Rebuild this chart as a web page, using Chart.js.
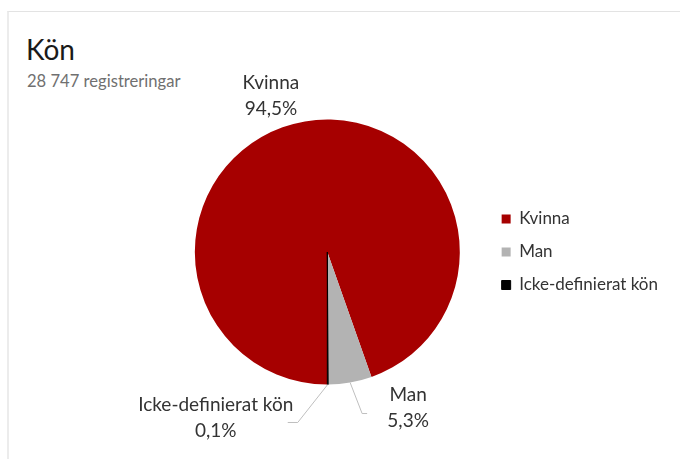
<!DOCTYPE html>
<html>
<head>
<meta charset="utf-8">
<script src="https://cdn.jsdelivr.net/npm/chart.js@4.4.0/dist/chart.umd.min.js"></script>
<style>
  html, body { margin: 0; padding: 0; background: #fff; }
  #wrap { position: relative; width: 680px; height: 459px; overflow: hidden; }
  #frame { position: absolute; left: 7px; top: 11px; width: 700px; height: 470px;
           border-top: 1px solid #e3e3e3; border-left: 2px solid #ececec; }
  #title { position: absolute; left: 26px; top: 32px; font-family: Lato, sans-serif;
           font-size: 28px; color: #1a1a1a; }
  #subtitle { position: absolute; left: 27px; top: 71px; font-family: Lato, sans-serif;
              font-size: 16.6px; color: #707070; }
  canvas { position: absolute; left: 0; top: 0; }
</style>
</head>
<body>
<div id="wrap">
  <div id="frame"></div>
  <div id="title">Kön</div>
  <div id="subtitle">28 747 registreringar</div>
  <canvas id="myChart" width="680" height="459"></canvas>
</div>
<script>
const categories = ['Kvinna', 'Man', 'Icke-definierat kön'];
const shares = [94.5, 5.3, 0.1];
const shareLabels = ['94,5%', '5,3%', '0,1%'];
const sliceColors = ['#a60000', '#b3b3b3', '#000000'];

// outer data labels with leader lines, placed relative to each slice's rim mid point
const outerLabels = {
    id: 'outerLabels',
    afterDraw(chart, args, opts) {
        const ctx = chart.ctx;
        const arcs = chart.getDatasetMeta(0).data;
        ctx.save();
        ctx.font = '19px Lato, sans-serif';
        ctx.fillStyle = '#333333';
        ctx.textAlign = 'center';
        ctx.textBaseline = 'middle';
        arcs.forEach((arc, i) => {
            const mid = (arc.startAngle + arc.endAngle) / 2;
            const px = arc.x + Math.cos(mid) * arc.outerRadius;
            const py = arc.y + Math.sin(mid) * arc.outerRadius;
            const p = opts.place[i];
            if (p.line) {
                ctx.strokeStyle = '#bfbfbf';
                ctx.lineWidth = 1;
                ctx.beginPath();
                ctx.moveTo(px, py);
                ctx.lineTo(px + p.line[0], py + p.line[1]);
                ctx.lineTo(px + p.line[2], py + p.line[1]);
                ctx.stroke();
            }
            const tx = px + p.text[0];
            const ty = py + p.text[1];
            ctx.fillText(chart.data.labels[i], tx, ty);
            ctx.fillText(shareLabels[i], tx, ty + 26);
        });
        ctx.restore();
    }
};

const ctx = document.getElementById('myChart').getContext('2d');
new Chart(ctx, {
    type: 'pie',
    data: {
        labels: categories,
        datasets: [{
            data: shares,
            backgroundColor: sliceColors,
            borderColor: sliceColors,
            borderWidth: [0, 0, 1]
        }]
    },
    options: {
        responsive: false,
        animation: false,
        rotation: 180,
        layout: { padding: { left: 169, right: 12, top: 119, bottom: 74 } },
        plugins: {
            tooltip: { enabled: false },
            legend: {
                position: 'right',
                labels: {
                    boxWidth: 9,
                    boxHeight: 9,
                    padding: 16,
                    color: '#333333',
                    font: { family: 'Lato, sans-serif', size: 17 }
                }
            },
            outerLabels: {
                place: [
                    { text: [-34, -39] },
                    { line: [12, 31, 17], text: [58, 12] },
                    { line: [-30, 38, -40], text: [-112, 20] }
                ]
            }
        }
    },
    plugins: [outerLabels]
});
</script>
</body>
</html>
